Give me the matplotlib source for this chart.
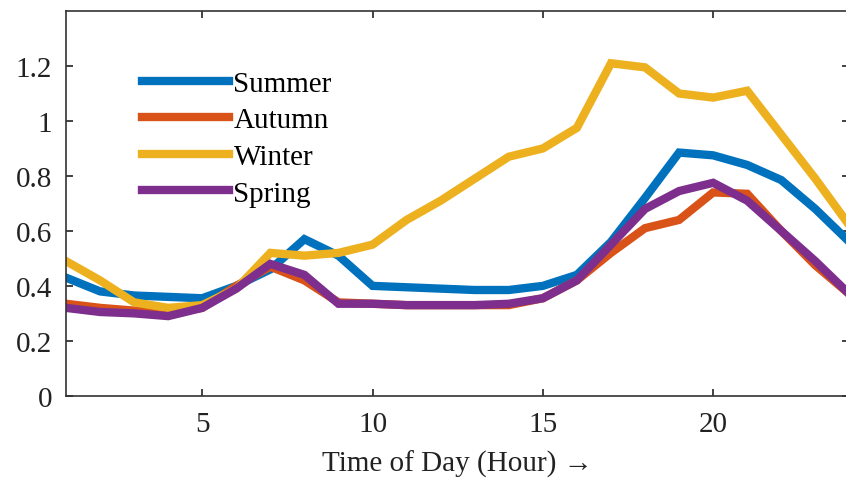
import numpy as np
import matplotlib.pyplot as plt

plt.rcParams['font.family'] = ['Liberation Serif', 'DejaVu Serif']

hours = np.arange(1, 25)

summer = [0.43, 0.38, 0.365, 0.36, 0.355, 0.40, 0.46, 0.57, 0.51, 0.40, 0.395, 0.39,
          0.385, 0.385, 0.40, 0.44, 0.56, 0.72, 0.885, 0.875, 0.84, 0.785, 0.68, 0.56]
autumn = [0.335, 0.32, 0.31, 0.30, 0.32, 0.40, 0.47, 0.42, 0.34, 0.335, 0.33, 0.33,
          0.33, 0.33, 0.355, 0.42, 0.52, 0.61, 0.64, 0.74, 0.735, 0.60, 0.475, 0.37]
winter = [0.49, 0.42, 0.34, 0.32, 0.33, 0.39, 0.52, 0.51, 0.52, 0.55, 0.64, 0.71,
          0.79, 0.87, 0.90, 0.975, 1.21, 1.195, 1.10, 1.085, 1.11, 0.95, 0.79, 0.62]
spring = [0.32, 0.305, 0.30, 0.29, 0.32, 0.39, 0.48, 0.44, 0.335, 0.335, 0.33, 0.33,
          0.33, 0.335, 0.355, 0.42, 0.55, 0.68, 0.745, 0.775, 0.71, 0.60, 0.49, 0.37]

series = [("Summer", summer, "#0072BD"),
          ("Autumn", autumn, "#D95319"),
          ("Winter", winter, "#EDB120"),
          ("Spring", spring, "#7E2F8E")]

fig = plt.figure(figsize=(8.46, 4.81), dpi=100)
ax = fig.add_axes([0.078, 0.175, 0.926, 0.8])

for name, vals, col in series:
    ax.plot(hours, vals, color=col, lw=6, label=name, solid_joinstyle='miter')

ax.set_xlim(1, 24)
ax.set_ylim(0, 1.4)
ax.set_xticks([5, 10, 15, 20])
ax.set_yticks([0, 0.2, 0.4, 0.6, 0.8, 1, 1.2])
ax.set_yticklabels(["0", "0.2", "0.4", "0.6", "0.8", "1", "1.2"])
ax.tick_params(direction='in', length=5, width=1.2, top=True, right=True,
               labelsize=21, colors='#222222')
ax.tick_params(axis='x', pad=11)
ax.tick_params(axis='y', pad=10)
for sp in ax.spines.values():
    sp.set_color('#333333')
    sp.set_linewidth(1.2)

ax.set_xlabel("Time of Day (Hour) \u2192", fontsize=21, color='#222222', labelpad=9)

ax.legend(loc='upper left', bbox_to_anchor=(0.082, 0.876), frameon=False, fontsize=21,
          handlelength=3.0, handletextpad=0.14, labelspacing=0.35, borderaxespad=0)

fig.savefig("out.png", dpi=100)
